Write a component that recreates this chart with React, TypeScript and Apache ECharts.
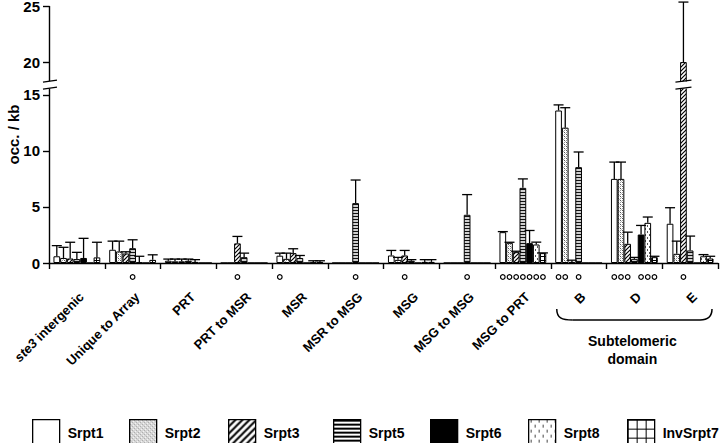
import React, { useEffect, useRef } from 'react';
import * as echarts from 'echarts';

const categories = ['ste3 intergenic', 'Unique to Array', 'PRT', 'PRT to MSR', 'MSR', 'MSR to MSG', 'MSG', 'MSG to MSG', 'MSG to PRT', 'B', 'D', 'E'];
const seriesNames = ['Srpt1', 'Srpt2', 'Srpt3', 'Srpt5', 'Srpt6', 'Srpt8', 'InvSrpt7'];

// mean values per category
const srpt1 = [0.6, 1.18, 0.2, 0, 0.65, 0, 0.67, 0, 2.75, 13.6, 7.5, 3.5];
const srpt2 = [0.45, 1.03, 0.15, 0, 0.37, 0, 0.28, 0, 1.8, 12.07, 7.5, 0.82];
const srpt3 = [0.4, 0.85, 0.15, 1.75, 0.88, 0, 0.67, 0, 0.97, 0.1, 1.71, 20];
const srpt5 = [0.35, 1.32, 0.2, 0.52, 0.45, 5.34, 0.2, 4.3, 6.7, 8.55, 0.37, 1.12];
const srpt6 = [0.45, 0.05, 0.1, 0, 0, 0, 0, 0, 1.77, 0, 2.54, 0];
const srpt8 = [0, 0, 0, 0, 0.05, 0, 0.1, 0, 1.65, 0, 3.58, 0.6];
const invSrpt7 = [0.5, 0.28, 0, 0, 0.1, 0, 0.1, 0, 0.88, 0, 0.52, 0.4];

// upper end of error bars (0 = none)
const srpt1Err = [1.55, 1.95, 0.35, 0, 0.88, 0, 1.12, 0, 2.8, 14.1, 9.0, 4.93];
const srpt2Err = [1.4, 1.95, 0.35, 0, 0.88, 0, 0.5, 0, 1.85, 13.85, 9.0, 1.95];
const srpt3Err = [1.85, 1.0, 0.35, 2.37, 1.27, 0, 1.12, 0, 1.05, 0.25, 2.75, 25.35];
const srpt5Err = [0.95, 2.07, 0.35, 0.88, 0.67, 7.4, 0.3, 6.1, 7.5, 9.9, 0.5, 2.4];
const srpt6Err = [2.2, 0.6, 0.3, 0, 0, 0, 0, 0, 2.9, 0, 3.35, 0];
const srpt8Err = [0, 0, 0, 0, 0.2, 0, 0.3, 0, 1.86, 0, 4.1, 0.75];
const invSrpt7Err = [1.85, 0.73, 0, 0, 0.2, 0, 0.3, 0, 0.9, 0, 0.6, 0.6];

// significance circles: [category index, series index]
const circles: [number, number][] = [
  [1, 3], [3, 2], [4, 0], [5, 3], [6, 2], [7, 3],
  [8, 0], [8, 1], [8, 2], [8, 3], [8, 4], [8, 5], [8, 6],
  [9, 0], [9, 1], [9, 3],
  [10, 0], [10, 1], [10, 2], [10, 4], [10, 5], [10, 6],
  [11, 2],
];

const yTickValues = [0, 5, 10, 15, 20, 25];
const yBreak = { start: 15.6, end: 18.3, gap: 0.62 };

const values = [srpt1, srpt2, srpt3, srpt5, srpt6, srpt8, invSrpt7];
const errs = [srpt1Err, srpt2Err, srpt3Err, srpt5Err, srpt6Err, srpt8Err, invSrpt7Err];

const FONT = '"Liberation Sans", Arial, Helvetica, sans-serif';
const CAT_GAP = 0.16;

function tile(w: number, h: number, draw: (c: CanvasRenderingContext2D) => void, bg = '#fff') {
  const cv = document.createElement('canvas');
  cv.width = w;
  cv.height = h;
  const ctx = cv.getContext('2d')!;
  ctx.fillStyle = bg;
  ctx.fillRect(0, 0, w, h);
  draw(ctx);
  return cv;
}

function makePatterns(big: boolean) {
  const pat = (cv: HTMLCanvasElement) => ({ image: cv, repeat: 'repeat' });
  const dots = tile(4, 4, (c) => {
    c.fillStyle = '#555';
    c.fillRect(0, 0, 1, 1);
    c.fillRect(2, 2, 1, 1);
    c.fillStyle = '#999';
    c.fillRect(2, 0, 1, 1);
    c.fillRect(0, 2, 1, 1);
    c.fillStyle = '#bbb';
    c.fillRect(1, 1, 1, 1);
    c.fillRect(3, 3, 1, 1);
  });
  const s = big ? 7 : 4;
  const hatch = tile(s, s, (c) => {
    c.strokeStyle = '#000';
    c.lineWidth = big ? 2 : 1.2;
    c.beginPath();
    c.moveTo(-1, s + 1); c.lineTo(s + 1, -1);
    c.moveTo(-1, 1); c.lineTo(1, -1);
    c.moveTo(s - 1, s + 1); c.lineTo(s + 1, s - 1);
    c.stroke();
  });
  const horiz = big
    ? tile(1, 4, (c) => { c.fillStyle = '#000'; c.fillRect(0, 0, 1, 2); })
    : tile(1, 3, (c) => { c.fillStyle = '#111'; c.fillRect(0, 0, 1, 1); }, '#cfcfcf');
  const dash = big
    ? tile(8, 10, (c) => { c.fillStyle = '#444'; c.fillRect(2, 0, 1, 3); c.fillRect(6, 5, 1, 3); })
    : tile(4, 6, (c) => { c.fillStyle = '#555'; c.fillRect(1, 0, 1, 2); c.fillRect(3, 3, 1, 2); });
  const g = big ? 9 : 4;
  const grid = tile(g, g, (c) => {
    c.fillStyle = '#000';
    c.fillRect(0, 0, g, 1);
    c.fillRect(0, 0, 1, g);
  });
  return ['#fff', pat(dots), pat(hatch), pat(horiz), '#000', pat(dash), pat(grid)];
}

export default function App() {
  const ref = useRef<HTMLDivElement>(null);

  useEffect(() => {
    if (!ref.current) return;
    const chart = echarts.init(ref.current, undefined, { renderer: 'svg' });
    const barPats = makePatterns(false);
    const legPats = makePatterns(true);
    const legendLefts = [27, 124, 223, 328, 425, 523, 622];

    const errData: number[][] = [];
    errs.forEach((arr, k) => {
      arr.forEach((e, i) => {
        if (e > values[k][i]) errData.push([i, k, values[k][i], e]);
      });
    });

    const barOffset = (api: any, k: number) => {
      const band = api.size([1, 0])[0];
      const total = band * (1 - CAT_GAP);
      const bw = total / seriesNames.length;
      return -total / 2 + (k + 0.5) * bw;
    };

    const option: any = {
      animation: false,
      backgroundColor: '#fff',
      grid: { left: 49, right: 2, top: 6, bottom: 180, containLabel: false, outerBoundsMode: 'none' },
      legend: seriesNames.map((n, i) => ({
        data: [{ name: n, itemStyle: { color: legPats[i], borderColor: '#000', borderWidth: 1.3 } }],
        left: legendLefts[i],
        top: 414,
        itemWidth: 27,
        itemHeight: 27,
        icon: 'rect',
        selectedMode: false,
        textStyle: { fontFamily: FONT, fontWeight: 'bold', fontSize: 14, color: '#000', padding: [0, 0, 0, 3] },
      })),
      xAxis: {
        type: 'category',
        data: categories,
        axisLine: { lineStyle: { color: '#000', width: 1.4 } },
        axisTick: { show: true, interval: 0, length: 6, alignWithLabel: false, lineStyle: { color: '#000', width: 1.4 } },
        axisLabel: {
          interval: 0,
          rotate: 45,
          margin: 27,
          verticalAlign: 'top',
          color: '#000',
          fontFamily: FONT,
          fontWeight: 'bold',
          fontSize: 13,
          formatter: (v: string) => (v.startsWith('ste3') ? '{i|ste3}' + v.slice(4) : v),
          rich: { i: { fontStyle: 'italic', fontWeight: 'bold', fontSize: 13, fontFamily: FONT, color: '#000' } },
        },
      },
      yAxis: {
        type: 'value',
        min: yTickValues[0],
        max: yTickValues[yTickValues.length - 1],
        breaks: [{ start: yBreak.start, end: yBreak.end, gap: yBreak.gap }],
        breakArea: {
          show: true,
          itemStyle: { color: '#fff', borderColor: 'rgba(0,0,0,0)', borderWidth: 0, opacity: 1 },
          zigzagAmplitude: 0,
          zigzagZ: 100,
          expandOnClick: false,
        },
        name: 'occ. / kb',
        nameLocation: 'middle',
        nameGap: 28,
        nameMoveOverlap: false,
        nameTextStyle: { fontFamily: FONT, fontWeight: 'bold', fontSize: 15, color: '#000' },
        axisLine: { show: true, lineStyle: { color: '#000', width: 1.4 } },
        axisTick: { show: true, length: 6, customValues: yTickValues, lineStyle: { color: '#000', width: 1.4 } },
        axisLabel: {
          color: '#000', fontFamily: FONT, fontWeight: 'bold', fontSize: 15, margin: 9,
          customValues: yTickValues,
          formatter: (v: number) => (yTickValues.indexOf(v) >= 0 ? String(v) : ''),
        },
        splitLine: { show: false },
      },
      series: [
        ...seriesNames.map((n, k) => ({
          name: n,
          type: 'bar',
          data: values[k],
          barCategoryGap: CAT_GAP * 100 + '%',
          barGap: '0%',
          itemStyle: { color: barPats[k], borderColor: '#000', borderWidth: 1 },
          emphasis: { disabled: true },
        })),
        {
          type: 'custom',
          name: 'err',
          z: 5,
          encode: { x: 0, y: [2, 3] },
          data: errData,
          renderItem: (params: any, api: any) => {
            const cat = api.value(0);
            const k = api.value(1);
            const base = api.coord([cat, api.value(2)]);
            const top = api.coord([cat, api.value(3)]);
            const cx = base[0] + barOffset(api, k);
            const st = { stroke: '#000', lineWidth: 1.3 };
            return {
              type: 'group',
              children: [
                { type: 'line', shape: { x1: cx, y1: base[1], x2: cx, y2: top[1] }, style: st },
                { type: 'line', shape: { x1: cx - 5, y1: top[1], x2: cx + 5, y2: top[1] }, style: st },
              ],
            };
          },
        },
        {
          type: 'custom',
          name: 'sig',
          z: 5,
          encode: { x: 0, y: 1 },
          data: circles,
          renderItem: (params: any, api: any) => {
            const cat = api.value(0);
            const k = api.value(1);
            const p = api.coord([cat, 0]);
            return {
              type: 'circle',
              shape: { cx: p[0] + barOffset(api, k), cy: p[1] + 14, r: 2.3 },
              style: { fill: '#fff', stroke: '#000', lineWidth: 1.2 },
            };
          },
        },
      ],
    };

    chart.setOption(option);

    // annotations derived from the axes
    const x0 = chart.convertToPixel({ xAxisIndex: 0 }, 0) as number;
    const x1 = chart.convertToPixel({ xAxisIndex: 0 }, 1) as number;
    const band = x1 - x0;
    const axisX = x0 - band / 2;
    const yLo = chart.convertToPixel({ yAxisIndex: 0 }, yBreak.start) as number;
    const yHi = chart.convertToPixel({ yAxisIndex: 0 }, yBreak.end) as number;
    const y0 = chart.convertToPixel({ yAxisIndex: 0 }, 0) as number;
    const xE = chart.convertToPixel({ xAxisIndex: 0 }, 11) as number;
    const xB = chart.convertToPixel({ xAxisIndex: 0 }, 9) as number;
    const total = band * (1 - CAT_GAP);
    const bw = total / seriesNames.length;
    const eBar = xE - total / 2 + 2.5 * bw;
    const ls = { stroke: '#000', lineWidth: 1.4 };
    const bl = xB - band / 2 + 6;
    const br = xE + band / 2 - 6;
    const by = y0 + 57;
    const bt = y0 + 46;

    chart.setOption({
      graphic: [
        { type: 'rect', z: 200, shape: { x: axisX - 3, y: yHi, width: 6, height: yLo - yHi }, style: { fill: '#fff' } },
        { type: 'line', z: 201, shape: { x1: axisX - 6, y1: yHi + 1, x2: axisX + 8, y2: yHi - 1 }, style: ls },
        { type: 'line', z: 201, shape: { x1: axisX - 6, y1: yLo + 1, x2: axisX + 8, y2: yLo - 1 }, style: ls },
        { type: 'line', z: 201, shape: { x1: eBar - 8, y1: yHi + 1, x2: eBar + 8, y2: yHi - 1 }, style: ls },
        { type: 'line', z: 201, shape: { x1: eBar - 8, y1: yLo + 1, x2: eBar + 8, y2: yLo - 1 }, style: ls },
        {
          type: 'bezierCurve', z: 201,
          shape: { x1: bl, y1: bt, cpx1: bl, cpy1: by - 2, cpx2: bl + 5, cpy2: by, x2: bl + 16, y2: by },
          style: { stroke: '#000', lineWidth: 1.5, fill: 'none' },
        },
        { type: 'line', z: 201, shape: { x1: bl + 16, y1: by, x2: br - 12, y2: by }, style: { stroke: '#000', lineWidth: 1.5 } },
        {
          type: 'bezierCurve', z: 201,
          shape: { x1: br - 12, y1: by, cpx1: br - 4, cpy1: by, cpx2: br, cpy2: by - 3, x2: br, y2: bt },
          style: { stroke: '#000', lineWidth: 1.5, fill: 'none' },
        },
        {
          type: 'text', z: 201,
          x: (bl + br) / 2 - 2,
          y: by + 12,
          style: {
            text: 'Subtelomeric\ndomain',
            textAlign: 'center',
            textVerticalAlign: 'top',
            fontFamily: FONT,
            fontWeight: 'bold',
            fontSize: 14,
            lineHeight: 18,
            fill: '#000',
          },
        },
      ],
    });

    return () => chart.dispose();
  }, []);

  return <div ref={ref} style={{ position: 'fixed', left: 0, top: 0, width: 720, height: 443 }} />;
}
